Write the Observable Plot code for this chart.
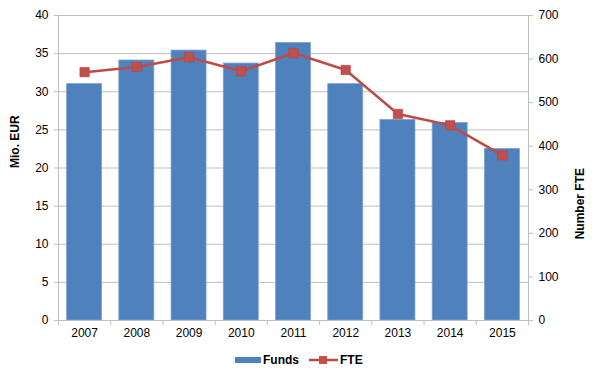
<!DOCTYPE html>
<html>
<head>
<meta charset="utf-8">
<script src="https://cdn.jsdelivr.net/npm/d3@7"></script>
<script src="https://cdn.jsdelivr.net/npm/@observablehq/plot@0.6"></script>
<style>
  html, body { margin: 0; padding: 0; background: #fff; }
  body { width: 592px; height: 379px; overflow: hidden; font-family: "Liberation Sans", Arial, sans-serif; }
  #legend { position: relative; height: 34px; font-size: 12px; font-weight: bold; color: #000; }
  .item { position: absolute; top: 8px; display: flex; align-items: center; }
</style>
</head>
<body>
<div id="chart"></div>
<div id="legend">
  <div class="item" style="left:235px">
    <svg width="26" height="10"><rect x="0" y="2" width="26" height="6" fill="#4F81BD"/></svg>
    <span style="margin-left:2px">Funds</span>
  </div>
  <div class="item" style="left:309px">
    <svg width="29" height="10"><line x1="0" y1="5" x2="29" y2="5" stroke="#BE4B48" stroke-width="2.5"/><rect x="10" y="1" width="8" height="8" fill="#C0504D"/></svg>
    <span style="margin-left:2px">FTE</span>
  </div>
</div>
<script>
const years = [2007, 2008, 2009, 2010, 2011, 2012, 2013, 2014, 2015];
const funds = [31.0, 34.1, 35.4, 33.7, 36.4, 31.0, 26.3, 25.9, 22.5];
const fte = [570, 582, 604, 572, 614, 575, 474, 448, 379];
const leftTicks = [0, 5, 10, 15, 20, 25, 30, 35, 40];
const rightTicks = [0, 100, 200, 300, 400, 500, 600, 700];

const yMax = 40, rMax = 700;
const toLeft = v => v * yMax / rMax;
const half = 0.335;

const rows = years.map((y, i) => ({year: y, funds: funds[i], fte: fte[i], fteS: toLeft(fte[i])}));
const bounds = d3.range(years[0] - 0.5, years[years.length - 1] + 0.51, 1);

const grid = "#BFBFBF";
const chart = Plot.plot({
  width: 592,
  height: 345,
  marginLeft: 58,
  marginRight: 64,
  marginTop: 15,
  marginBottom: 25,
  style: {fontFamily: "Liberation Sans, Arial, sans-serif", fontSize: "12px", color: "#000", background: "#fff"},
  x: {type: "linear", domain: [years[0] - 0.5, years[years.length - 1] + 0.5]},
  y: {domain: [0, yMax]},
  marks: [
    Plot.ruleY(leftTicks.slice(1), {stroke: grid, strokeWidth: 1}),
    Plot.rect(rows, {x1: d => d.year - half, x2: d => d.year + half, y1: 0, y2: "funds", fill: "#4F81BD", stroke: "#7DA2CF", strokeWidth: 0.8}),
    Plot.ruleY([0], {stroke: grid}),
    Plot.ruleX([years[0] - 0.5, years[years.length - 1] + 0.5], {stroke: grid}),
    Plot.axisX(bounds, {tickSize: 5, tickFormat: () => "", stroke: grid, label: null}),
    Plot.axisX(years, {tickSize: 0, tickPadding: 8, tickFormat: d => String(d), label: null}),
    Plot.axisY(leftTicks, {anchor: "left", tickSize: 4, stroke: grid, tickPadding: 6, label: null}),
    Plot.axisY(rightTicks.map(toLeft), {anchor: "right", tickSize: 4, stroke: grid, tickPadding: 6, tickFormat: d => String(Math.round(d * rMax / yMax)), label: null}),
    Plot.line(rows, {x: "year", y: "fteS", stroke: "#BE4B48", strokeWidth: 2.5}),
    Plot.dot(rows, {x: "year", y: "fteS", symbol: "square", r: 5.3, fill: "#C0504D", stroke: "#B5433F", strokeWidth: 0.6}),
    Plot.text(["Mio. EUR"], {frameAnchor: "left", dx: -43, rotate: -90, fontWeight: "bold", fontSize: 12}),
    Plot.text(["Number FTE"], {frameAnchor: "right", dx: 52, rotate: -90, fontWeight: "bold", fontSize: 12})
  ]
});
document.getElementById("chart").appendChild(chart);
</script>
</body>
</html>
